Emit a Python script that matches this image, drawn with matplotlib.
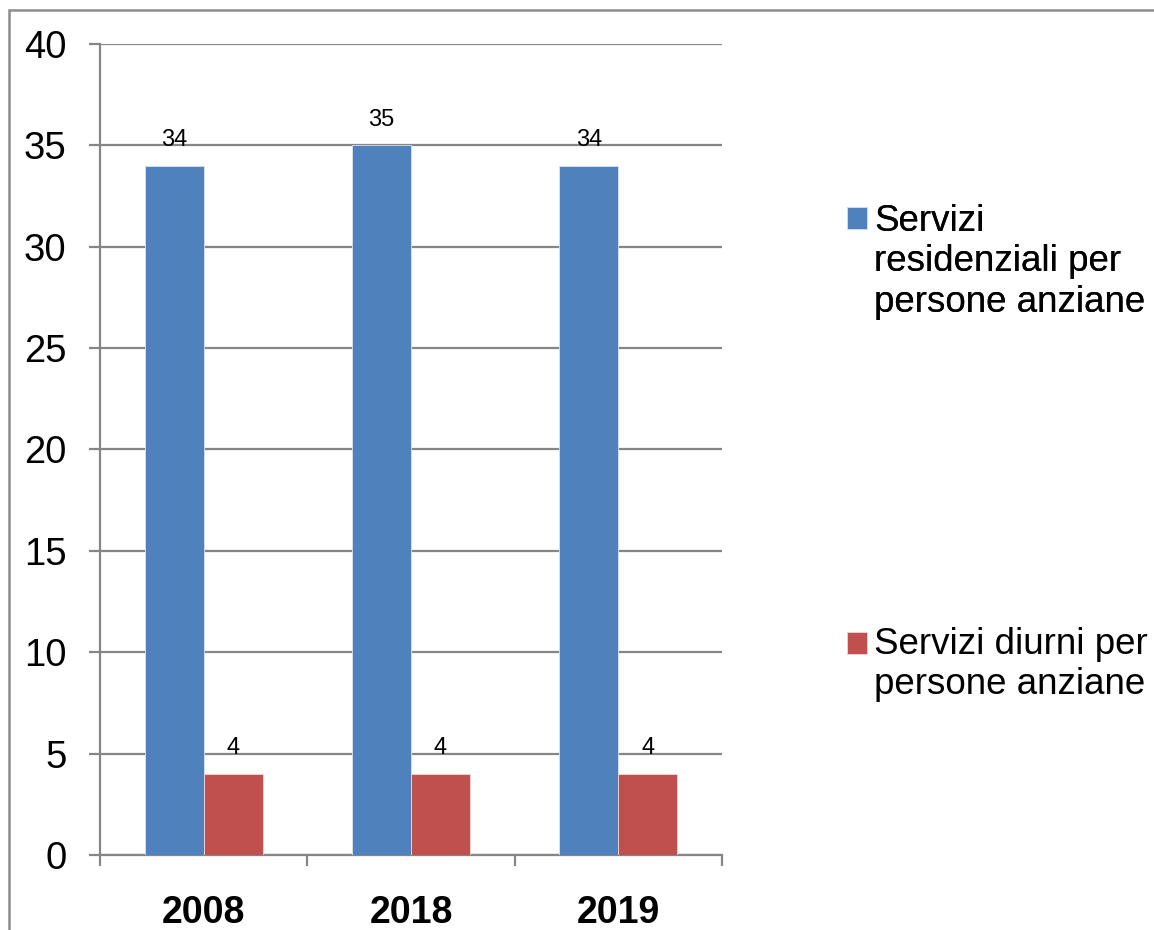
import matplotlib.pyplot as plt
import numpy as np
from matplotlib.patches import Rectangle
from matplotlib.legend_handler import HandlerPatch

years = ["2008", "2018", "2019"]
residenziali = [34, 35, 34]
diurni = [4, 4, 4]
series_labels = ["Servizi\nresidenziali per\npersone anziane",
                 "Servizi diurni per\npersone anziane"]

BLUE = "#4F81BD"
RED = "#C0504D"
GRID = "#868686"
LEG_FS = 26.5

plt.rcParams["font.family"] = ["Liberation Sans", "DejaVu Sans"]

fig = plt.figure(figsize=(11.54, 9.3), dpi=100)
ax = fig.add_axes([100 / 1154, 1 - 855 / 930, 622 / 1154, 811 / 930])

x = np.arange(len(years))
w = 0.285
b1 = ax.bar(x - w / 2, residenziali, w, color=BLUE, edgecolor="#dbe4f0", linewidth=0.6, zorder=3)
b2 = ax.bar(x + w / 2, diurni, w, color=RED, edgecolor="#f0d8d8", linewidth=0.6, zorder=3)

for bars in (b1, b2):
    for rect in bars:
        ax.annotate(f"{rect.get_height():g}",
                    (rect.get_x() + rect.get_width() / 2, rect.get_height()),
                    xytext=(0, 10.5), textcoords="offset points",
                    ha="center", va="bottom", fontsize=17)

ax.set_xlim(-0.5, len(years) - 0.5)
ax.set_ylim(0, 40)
ax.set_yticks(range(0, 41, 5))
ax.yaxis.grid(True, color=GRID, linewidth=1.6, zorder=0)
ax.set_axisbelow(True)

ax.set_xticks(x)
ax.set_xticklabels(years, fontsize=27, fontweight="bold")
ax.set_xticks(np.arange(-0.5, len(years)), minor=True)
ax.tick_params(axis="x", which="major", length=0, pad=29)
ax.tick_params(axis="x", which="minor", length=8, width=1.6, color=GRID, direction="out")
ax.tick_params(axis="y", length=8, width=1.6, color=GRID, labelsize=27.5, pad=16)

for side in ("top", "right"):
    ax.spines[side].set_visible(False)
for side in ("left", "bottom"):
    ax.spines[side].set_color(GRID)
    ax.spines[side].set_linewidth(1.6)


def top_square(shift_lines):
    # legend centres the handle on multi-line text; move it up to the first line
    def make(legend, orig_handle, xdescent, ydescent, width, height, fontsize):
        dy = shift_lines * fontsize * 1.2
        return Rectangle((-xdescent, -ydescent + dy), width, height)
    return HandlerPatch(patch_func=make)


common = dict(loc="upper left", frameon=False, fontsize=LEG_FS,
              handlelength=0.54, handleheight=0.54, handletextpad=0.2,
              borderpad=0, borderaxespad=0)
leg1 = fig.legend([b1.patches[0]], [series_labels[0]],
                  bbox_to_anchor=(847 / 1154, 1 - 204 / 930),
                  handler_map={b1.patches[0]: top_square(1.0)}, **common)
fig.legend([b2.patches[0]], [series_labels[1]],
           bbox_to_anchor=(847 / 1154, 1 - 627 / 930),
           handler_map={b2.patches[0]: top_square(0.5)}, **common)
fig.add_artist(leg1)

fig.patches.append(Rectangle((9 / 1154, -0.1), 1.2, 1 - 10 / 930 + 0.1,
                             transform=fig.transFigure, fill=False,
                             edgecolor="#8c8c8c", linewidth=1.8))

fig.savefig("out.png", dpi=100)
